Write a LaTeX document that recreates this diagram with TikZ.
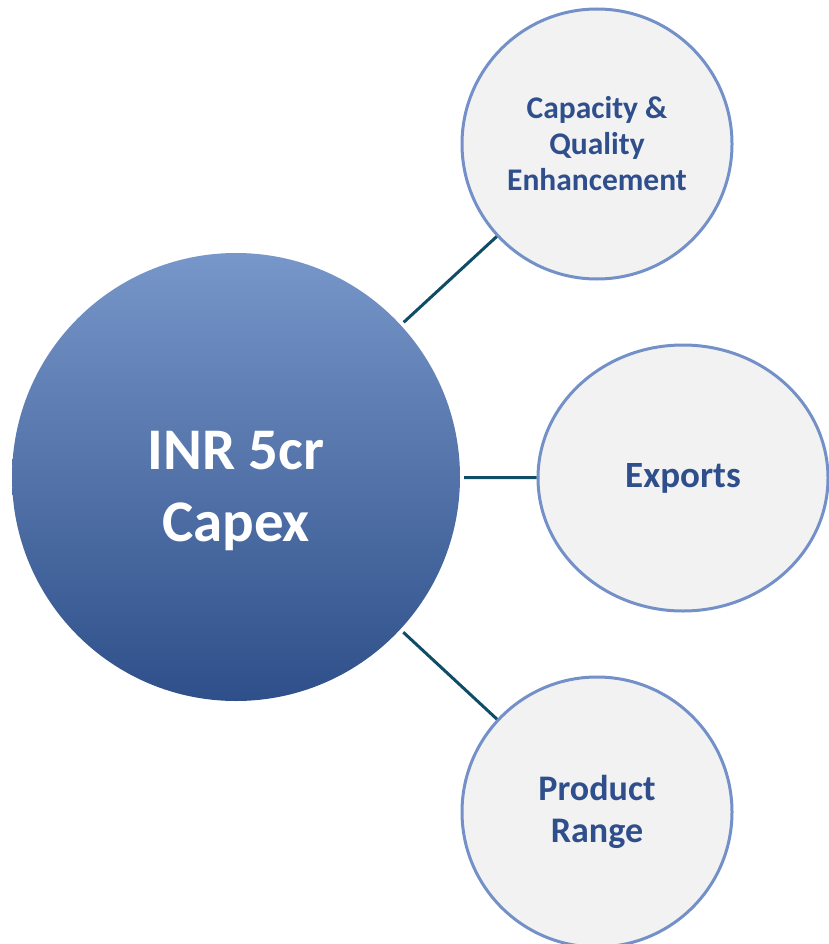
\documentclass[tikz,border=0pt]{standalone}
\usepackage{fontspec}
\usetikzlibrary{shapes.geometric}
\setmainfont{Carlito}
\definecolor{linecol}{HTML}{0F4C66}
\definecolor{ringcol}{HTML}{7391C8}
\definecolor{fillcol}{HTML}{F2F2F2}
\definecolor{txtcol}{HTML}{2F4F8C}
\definecolor{topcol}{HTML}{7796C9}
\definecolor{botcol}{HTML}{2E4F89}
\begin{document}
\begin{tikzpicture}[x=1pt,y=-1pt,
  hub/.style={circle,minimum size=448pt,inner sep=0pt,top color=topcol,bottom color=botcol,draw=none},
  hubtext/.style={text=white,font=\fontsize{59}{72}\selectfont\bfseries,align=center,inner sep=0pt},
  leaf/.style={circle,minimum size=270pt,inner sep=0pt,fill=fillcol,draw=ringcol,line width=3pt,
    text=txtcol,font=\fontsize{31.5}{36}\selectfont\bfseries,align=center},
  link/.style={draw=linecol,line width=3pt,shorten <=4pt}]
\useasboundingbox (0,0) rectangle (828,944);
\node[hub,label={[hubtext,yshift=-14pt]center:INR 5cr\\Capex}] (hub) at (236,477) {};
\node[leaf,ellipse,minimum width=290pt,minimum height=266pt,font=\fontsize{37}{42}\selectfont\bfseries] (exp) at (683,478) {Exports};
\node[leaf] (cap) at (597,144) {Capacity \&\\Quality\\Enhancement};
\node[leaf,font=\fontsize{36}{42}\selectfont\bfseries] (prod) at (597,812) {Product\\Range};
\draw[link] (hub) -- (cap);
\draw[link] (hub) -- (exp);
\draw[link] (hub) -- (prod);
\end{tikzpicture}
\end{document}
